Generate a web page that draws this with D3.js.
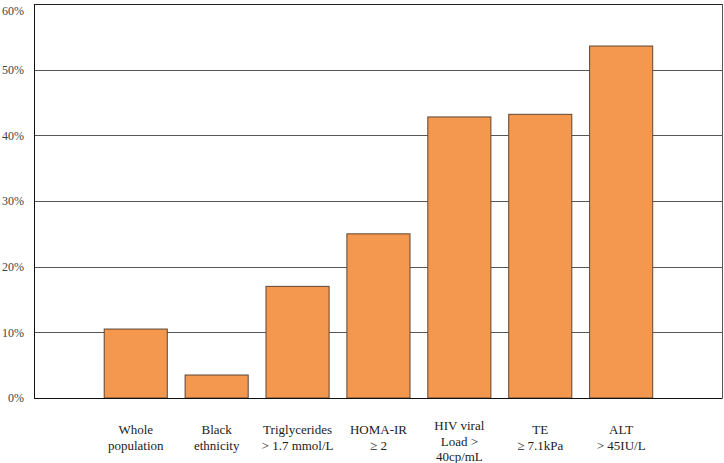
<!DOCTYPE html>
<html><head><meta charset="utf-8">
<script src="https://cdn.jsdelivr.net/npm/d3@7"></script>
<style>body{margin:0;background:#fff}svg{display:block}
text{font-family:"Liberation Serif","DejaVu Serif","Times New Roman",serif}</style>
</head><body>
<svg id="c" width="724" height="463"></svg>
<script>
const categories = [
  ["Whole","population"],
  ["Black","ethnicity"],
  ["Triglycerides","> 1.7 mmol/L"],
  ["HOMA-IR","≥ 2"],
  ["HIV viral","Load >","40cp/mL"],
  ["TE","≥ 7.1kPa"],
  ["ALT","> 45IU/L"]
];
const values = [10.5, 3.5, 17.0, 25.0, 42.8, 43.2, 53.6];
const yTicks = [0,10,20,30,40,50,60];

const svg = d3.select("#c");
const L = 34, R = 722.5, T = 4, B = 398;
const keys = categories.map((c,i)=>String(i));
const x = d3.scaleBand().domain(keys).range([95.3, 661.6]).paddingInner(0.22).paddingOuter(0.11);
const y = d3.scaleLinear().domain([0,60]).range([B,T]);

// gridlines
svg.append("g").selectAll("line").data(yTicks.filter(t=>t>0)).join("line")
  .attr("x1",L).attr("x2",R).attr("y1",d=>Math.round(y(d))+0.5).attr("y2",d=>Math.round(y(d))+0.5)
  .attr("stroke",d=>d===60?"#222":"#555").attr("stroke-width",1);

// bars
svg.append("g").selectAll("rect").data(values).join("rect")
  .attr("x",(d,i)=>x(keys[i])).attr("width",x.bandwidth())
  .attr("y",d=>y(d)).attr("height",d=>B-y(d))
  .attr("fill","#F3984E").attr("stroke","#5e4634").attr("stroke-width",1);

// frame: left, bottom, right
svg.append("line").attr("x1",L+0.5).attr("x2",L+0.5).attr("y1",T).attr("y2",B).attr("stroke","#111");
svg.append("line").attr("x1",R).attr("x2",R).attr("y1",T).attr("y2",B).attr("stroke","#555");
svg.append("line").attr("x1",L).attr("x2",R).attr("y1",Math.round(B)+0.5).attr("y2",Math.round(B)+0.5).attr("stroke","#111");

// y axis labels
const yAxis = d3.axisLeft(y).tickValues(yTicks).tickFormat(d=>d+"%").tickSize(0).tickPadding(0);
const ya = svg.append("g").attr("transform",`translate(24,0)`).call(yAxis);
ya.select(".domain").remove();
ya.selectAll("text").attr("font-family",null).attr("font-size",12).attr("fill","#444")
  .attr("dy",d=>d===60?"0.85em":"0.32em");

// x labels
const xl = svg.append("g").selectAll("text").data(categories).join("text")
  .attr("text-anchor","middle")
  .attr("font-size",13).attr("fill","#222")
  .attr("x",(d,i)=>x(keys[i])+x.bandwidth()/2)
  .attr("y",d=>d.length===3?430:434);
xl.each(function(d){
  const t = d3.select(this);
  const x0 = t.attr("x");
  d.forEach((s,j)=>t.append("tspan").attr("x",x0).attr("dy",j===0?0:15.5).text(s));
});
</script>
</body></html>
